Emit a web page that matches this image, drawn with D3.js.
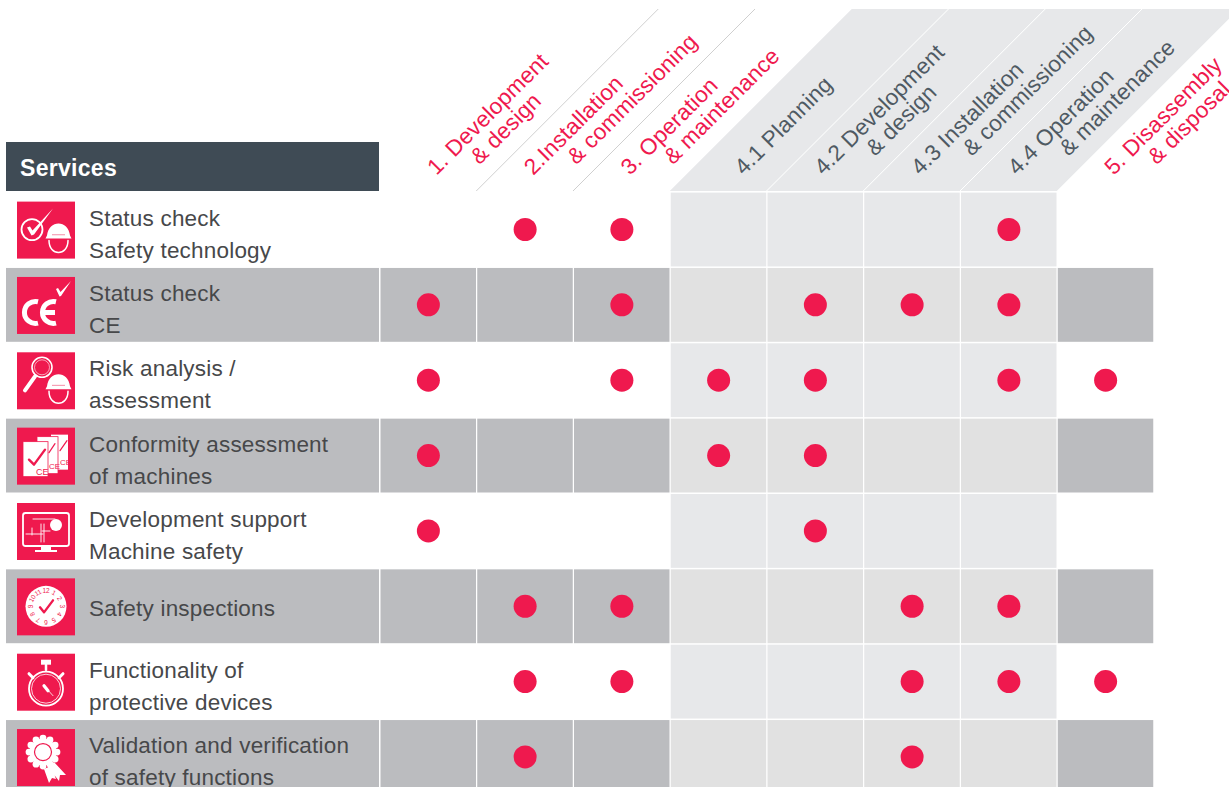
<!DOCTYPE html>
<html><head><meta charset="utf-8">
<script src="https://cdn.jsdelivr.net/npm/d3@7/dist/d3.min.js"></script>
<style>html,body{margin:0;padding:0;background:#fff;overflow:hidden}svg{display:block}text{font-family:"Liberation Sans",Arial,sans-serif}</style>
</head><body><svg id="c" width="1229" height="787"></svg>
<script>
const phases=[
 ["1. Development","& design"],["2.Installation","& commissioning"],["3. Operation","& maintenance"],
 ["4.1 Planning"],["4.2 Development","& design"],["4.3 Installation","& commissioning"],["4.4 Operation","& maintenance"],
 ["5. Disassembly","& disposal"]];
const phaseIsCore=[1,1,1,0,0,0,0,1];
const services=[
 ["Status check","Safety technology"],["Status check","CE"],["Risk analysis /","assessment"],
 ["Conformity assessment","of machines"],["Development support","Machine safety"],["Safety inspections"],
 ["Functionality of","protective devices"],["Validation and verification","of safety functions"]];
const marks0=[1,2,6], marks1=[0,2,4,5,6], marks2=[0,2,3,4,6,7], marks3=[0,3,4],
      marks4=[0,4], marks5=[1,2,5,6], marks6=[1,2,5,6,7], marks7=[1,5];
const marks=[marks0,marks1,marks2,marks3,marks4,marks5,marks6,marks7];

const RED="#ef194e",DARK="#3f4b55",GREY="#bbbcbf",LIGHT="#e7e8ea",LIGHT2="#e1e1e1",TXT="#47484a";
const svg=d3.select("#c");
const x=d3.scaleBand().domain(d3.range(8)).range([379.5,379.5+8*96.75]);
const y=d3.scaleBand().domain(d3.range(8)).range([192.6,192.6+8*75.35]);
const rise=182, topY=9, baseY=191;

const hd=svg.append("g");
phases.forEach((p,i)=>{
  const x0=x(i),x1=x0+x.step();
  if(!phaseIsCore[i]) hd.append("path").attr("d",d3.line()([[x0,baseY],[x0+rise,topY],[x1+rise,topY],[x1,baseY]])+"Z").attr("fill",LIGHT);
});
phases.forEach((p,i)=>{
  if(i==0||i==7||i==3)return;
  const x0=x(i);
  hd.append("line").attr("x1",x0).attr("y1",baseY).attr("x2",x0+rise).attr("y2",topY)
    .attr("stroke",phaseIsCore[i]?"#cfcfcf":"#fff").attr("stroke-width",1);
});
phases.forEach((p,i)=>{
  const cx=x(i)+x.bandwidth()/2+(p.length==1?25.5:8.5);
  const t=hd.append("text").attr("transform",`translate(${cx},176) rotate(-45)`)
    .attr("font-size",22.5).attr("letter-spacing",.2).attr("fill",phaseIsCore[i]?RED:"#4f5a63");
  p.forEach((s,j)=>t.append("tspan").attr("x",j?(phaseIsCore[i]?38:50):0).attr("y",j?23:0).text(s));
});

svg.append("rect").attr("x",6).attr("y",142).attr("width",373).attr("height",49).attr("fill",DARK);
svg.append("text").attr("x",20).attr("y",175.5).attr("font-size",23).attr("letter-spacing",.3).attr("font-weight",700).attr("fill","#fff").text("Services");

services.forEach((s,r)=>{
  const g=svg.append("g");
  const Y=y(r),H=y.step()-1.5;
  if(r%2) g.append("rect").attr("x",6).attr("y",Y).attr("width",373).attr("height",H).attr("fill",GREY);
  d3.range(8).forEach(c=>{
    const core=phaseIsCore[c];
    const fill=core?(r%2?GREY:null):(r%2?LIGHT2:LIGHT);
    if(fill) g.append("rect").attr("x",x(c)+1).attr("y",Y).attr("width",x.step()-1.25).attr("height",H).attr("fill",fill);
  });
  const tx=g.append("text").attr("font-size",22.5).attr("letter-spacing",.2).attr("fill",TXT);
  if(s.length==1) tx.append("tspan").attr("x",89).attr("y",Y+H/2+10).text(s[0]);
  else s.forEach((l,j)=>tx.append("tspan").attr("x",89).attr("y",Y+33+j*32).text(l));
});

marks.forEach((m,r)=>{
  svg.append("g").selectAll("circle").data(m).join("circle")
   .attr("cx",c=>x(c)+x.bandwidth()/2+.5).attr("cy",y(r)+36.9).attr("r",11.5).attr("fill",RED);
});

function W(g,d,sw){return g.append("path").attr("d",d).attr("fill","none").attr("stroke","#fff").attr("stroke-width",sw||1.5).attr("stroke-linecap","round").attr("stroke-linejoin","round");}
function F(g,d){return g.append("path").attr("d",d).attr("fill","#fff");}
function C(g,cx,cy,r,sw,fill){return g.append("circle").attr("cx",cx).attr("cy",cy).attr("r",r).attr("fill",fill||"none").attr("stroke",sw?"#fff":"none").attr("stroke-width",sw||0);}
function helmet(g,dx,dy){
  const h=g.append("g").attr("transform",`translate(${dx},${dy})`);
  F(h,"M1 12 C2 4 7 0 12.5 0 C18 0 23 4 24 12 L25.5 15 L-.5 15 Z");
  h.append("rect").attr("x",6).attr("y",10.5).attr("width",13).attr("height",1.2).attr("fill","#f6a0b6");
  W(h,"M3 17 C3 33 22 33 22 17",1.5);
}
const icons=[
 g=>{C(g,15,28,10.5,1.8);F(g,"M10 26 L13 25 L15.5 29 L36 7 L17 33 L14.5 34 Z");helmet(g,29,22);},
 g=>{W(g,"M21 24.8 A11 11 0 1 0 21 46.2",5).attr("stroke-linecap","butt");
     W(g,"M39 24.8 A11 11 0 1 0 39 46.2 M27 35.5 H38",5).attr("stroke-linecap","butt");
     F(g,"M39 12 L41 11 L43.5 15 L54 4 L44 19 L42.5 19.5 Z");},
 g=>{C(g,25,15,10,1.6);C(g,25,15,7.5,.6);W(g,"M18 24 L8 38",4);helmet(g,29,22);},
 g=>{g.append("rect").attr("x",34).attr("y",7).attr("width",17).attr("height",35).attr("fill","#fff");
     g.append("rect").attr("x",20).attr("y",9).attr("width",21).attr("height",37).attr("fill","#fff").attr("stroke",RED).attr("stroke-width",.8);
     g.append("rect").attr("x",6).attr("y",14).attr("width",25).attr("height",35).attr("fill","#fff").attr("stroke",RED).attr("stroke-width",.8);
     W(g,"M12 32 l5 5 L28 22",2.4).attr("stroke",RED);W(g,"M32 25 L38 16",1.2).attr("stroke",RED);W(g,"M43 23 L50 13",1.2).attr("stroke",RED);
     [[19,47,9],[32,41,8],[43,37,8]].forEach(a=>g.append("text").attr("x",a[0]).attr("y",a[1]).attr("font-size",a[2]).attr("fill",RED).text("CE"));},
 g=>{g.append("rect").attr("x",6).attr("y",10).attr("width",46).attr("height",33).attr("rx",2.5).attr("fill","none").attr("stroke","#fff").attr("stroke-width",1.8);
     F(g,"M24 43 h10 v4 h6 v2 h-22 v-2 h6 Z");C(g,39,22,6,0,"#fff");
     W(g,"M16 16 H38 M33 28 H25 M9 31 H26 M15 25 V32 M24 21 V39 M27 21 V39",.9);},
 g=>{C(g,29,28,20.5,0,"#fff");W(g,"M23 29 l4 5 L36 22",2.4).attr("stroke",RED);
     d3.range(1,13).forEach(k=>{const a=k*30;
       g.append("text").attr("transform",`translate(29,28) rotate(${a}) translate(0,-13.5)`).attr("text-anchor","middle")
        .attr("font-size",6.5).attr("fill",RED).text(k);});},
 g=>{g.append("rect").attr("x",24).attr("y",6).attr("width",10).attr("height",5).attr("fill","#fff");
     W(g,"M29 11 V16",2.5);W(g,"M12 20 L16 24 M46 20 L42 24",3);C(g,29,35,17,1.8);C(g,29,35,14.5,.8);W(g,"M27 32 L36 42",.8);W(g,"M27 32 L31 37",3.2);},
 g=>{C(g,26,23,13.5,0,"#fff");d3.range(12).forEach(k=>{const a=k*Math.PI/6;C(g,26+14*Math.cos(a),23+14*Math.sin(a),3.4,0,"#fff");});
     C(g,26,23,8.5,1.2).attr("stroke",RED);
     F(g,"M31 38 L37 33 L49 46 L43 46 L42 52 Z M27 40 L34 37 L39 50 L35 49 L32 54 Z");}
];
icons.forEach((fn,r)=>{
  const g=svg.append("g").attr("transform",`translate(17,${y(r)+9})`);
  g.append("rect").attr("width",58).attr("height",57).attr("fill",RED);
  fn(g);
});
</script></body></html>
